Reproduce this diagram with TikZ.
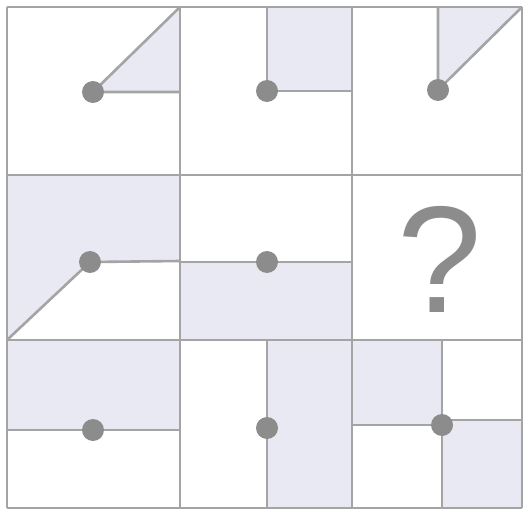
\documentclass[tikz,border=0pt]{standalone}
\usepackage{fontspec}
\usepackage{xcolor}
\newfontfamily\qfont{Liberation Sans}
\definecolor{gridgray}{HTML}{A4A4A4}
\definecolor{dotgray}{HTML}{8C8C8C}
\definecolor{shade}{HTML}{E9E9F3}

\begin{document}
\begin{tikzpicture}[x=1pt,y=-1pt,
    line/.style={gridgray, line width=2.6pt},
    pivot/.style={fill=dotgray},
    area/.style={fill=shade}]
  \useasboundingbox (0,0) rectangle (527,513);
  \fill[white] (0,0) rectangle (527,513);

  % shaded parts
  \fill[area] (93,92) -- (180,7) -- (180,92) -- cycle;
  \fill[area] (267,7) rectangle (352,91);
  \fill[area] (438,90) -- (438,7) -- (522,7) -- cycle;
  \fill[area] (7,175) -- (180,175) -- (180,261) -- (90,262) -- (7,340) -- cycle;
  \fill[area] (180,262) rectangle (352,340);
  \fill[area] (7,340) rectangle (180,430);
  \fill[area] (267,340) rectangle (352,508);
  \fill[area] (352,340) rectangle (442,425);
  \fill[area] (442,420) rectangle (522,508);

  % lines from the dots
  \draw[line] (180,7) -- (93,92) -- (180,92);
  \draw[line] (267,7) -- (267,91) -- (352,91);
  \draw[line] (438,7) -- (438,90) -- (522,7);
  \draw[line] (7,340) -- (90,262) -- (180,261);
  \draw[line] (180,262) -- (352,262);
  \draw[line] (7,430) -- (180,430);
  \draw[line] (267,340) -- (267,508);
  \draw[line] (442,340) -- (442,508);
  \draw[line] (352,425) -- (442,425);
  \draw[line] (442,420) -- (522,420);

  % grid
  \foreach \x in {7,180,352,522}
    \draw[line] (\x,7) -- (\x,508);
  \foreach \y in {7,175,340,508}
    \draw[line] (7,\y) -- (522,\y);

  % dots
  \foreach \x/\y in {93/92,267/91,438/90,90/262,267/262,93/430,267/428,442/425}
    \fill[pivot] (\x,\y) circle[radius=11pt];

  \node[dotgray, inner sep=0pt] (ask) at (440,259) {\qfont\fontsize{152}{152}\selectfont ?};
\end{tikzpicture}
\end{document}
